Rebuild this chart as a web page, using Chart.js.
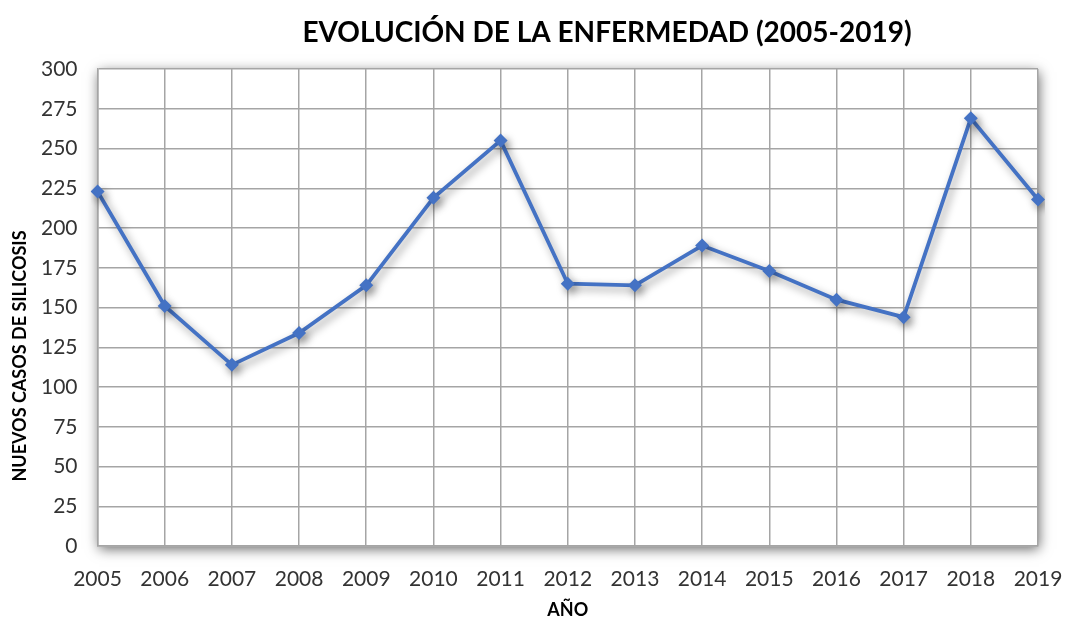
<!DOCTYPE html>
<html>
<head>
<meta charset="utf-8">
<script src="https://cdn.jsdelivr.net/npm/chart.js@4"></script>
<style>
  html, body { margin: 0; padding: 0; background: #fff; }
  #wrap { width: 1066px; height: 619px; position: relative; }
</style>
</head>
<body>
<div id="wrap"><canvas id="grafico"></canvas></div>
<script>
  const titulo = 'EVOLUCIÓN DE LA ENFERMEDAD (2005-2019)';
  const anios = ['2005', '2006', '2007', '2008', '2009', '2010', '2011', '2012', '2013', '2014', '2015', '2016', '2017', '2018', '2019'];
  const casos = [223, 151, 114, 134, 164, 219, 255, 165, 164, 189, 173, 155, 144, 269, 218];
  const tituloY = 'NUEVOS CASOS DE SILICOSIS';
  const tituloX = 'AÑO';

  const FONT = 'Lato, Calibri, Carlito, sans-serif';
  const GRID = '#a5a5a5';
  const AZUL = '#4472c4';

  // sombra del área de trazado y de la línea, títulos
  const sombras = {
    id: 'sombras',
    beforeDraw(chart) {
      const { ctx, chartArea: a } = chart;
      ctx.save();
      ctx.shadowColor = 'rgba(0,0,0,0.6)';
      ctx.shadowBlur = 12;
      ctx.shadowOffsetX = 1;
      ctx.shadowOffsetY = 3;
      ctx.fillStyle = '#fff';
      ctx.fillRect(a.left, a.top, a.right - a.left, a.bottom - a.top);
      ctx.restore();
    },
    beforeDatasetsDraw(chart) {
      const ctx = chart.ctx;
      ctx.save();
      ctx.shadowColor = 'rgba(0,0,0,0.4)';
      ctx.shadowBlur = 8;
      ctx.shadowOffsetX = 3;
      ctx.shadowOffsetY = 4;
    },
    afterDatasetsDraw(chart) {
      chart.ctx.restore();
    },
    afterDraw(chart) {
      const ctx = chart.ctx;
      ctx.save();
      ctx.fillStyle = '#000';
      ctx.textAlign = 'center';
      ctx.textBaseline = 'middle';
      ctx.font = 'bold 28px ' + FONT;
      ctx.fillText(titulo, 607, 33);
      ctx.translate(20, 356);
      ctx.rotate(-Math.PI / 2);
      ctx.font = 'bold 18px ' + FONT;
      ctx.fillText(tituloY, 0, 0);
      ctx.restore();
    }
  };

  new Chart(document.getElementById('grafico'), {
    type: 'line',
    data: {
      labels: anios,
      datasets: [{
        data: casos,
        borderColor: AZUL,
        backgroundColor: AZUL,
        borderWidth: 3.8,
        pointStyle: 'rectRot',
        pointRadius: 7,
        pointBorderWidth: 0,
        tension: 0
      }]
    },
    options: {
      responsive: true,
      maintainAspectRatio: false,
      animation: false,
      layout: { padding: { top: 69, left: 21, right: 28, bottom: -2 } },
      plugins: {
        legend: { display: false },
        tooltip: { enabled: false }
      },
      scales: {
        x: {
          offset: false,
          afterFit: (s) => { s.paddingRight = 0; },
          grid: { color: GRID, lineWidth: 1.5, drawTicks: false },
          border: { color: GRID, width: 1.5 },
          ticks: { color: '#333', font: { family: FONT, size: 21 }, padding: 20, maxRotation: 0 },
          title: { display: true, text: tituloX, color: '#000', font: { family: FONT, size: 18, weight: 'bold' }, padding: { top: -12, bottom: 0 } }
        },
        y: {
          min: 0,
          max: 300,
          ticks: { stepSize: 25, color: '#333', font: { family: FONT, size: 21 }, padding: 20 },
          grid: { color: GRID, lineWidth: 1.5, drawTicks: false },
          border: { color: GRID, width: 1.5 }
        }
      }
    },
    plugins: [sombras]
  });
</script>
</body>
</html>
